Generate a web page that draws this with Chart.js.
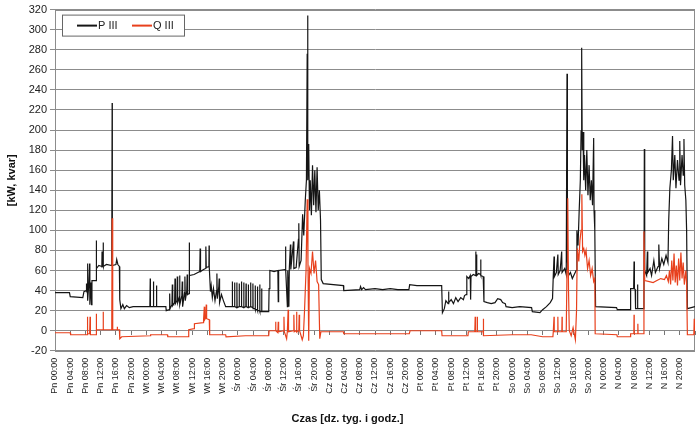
<!DOCTYPE html>
<html>
<head>
<meta charset="utf-8">
<script src="https://cdn.jsdelivr.net/npm/chart.js@4.4.0/dist/chart.umd.min.js"></script>
<style>
  html, body { margin: 0; padding: 0; background: #fff; }
</style>
</head>
<body>
<canvas id="chart" width="700" height="432"></canvas>
<script>
// tick labels: day of week x hour
const days = ["Pn", "Wt", "Śr", "Cz", "Pt", "So", "N"];
const hours = ["00:00", "04:00", "08:00", "12:00", "16:00", "20:00"];

// [hour of the week, kW]
const pIII = [
  [0,38],[3.8,38],[4.0,34],[7.3,33],[7.6,39],[8.2,40],[8.25,47],[8.3,40],[8.5,42],[8.55,67],[8.6,30],[8.9,48],[9.1,67],[9.15,26],[9.4,48],[9.6,26],[9.7,50],
  [10.8,50],[10.85,90],[10.9,62],[11.5,65],[12.3,64],[12.35,79],[12.4,64],[12.6,65],[12.65,88],[12.7,64],[13.5,66],[14.9,65],[15.0,227],[15.05,65],
  [16.0,66],[16.2,71],[16.5,66],[16.9,64],[17.0,31],[17.3,22],[17.8,26],[18.2,22],[18.8,25],[19.5,23],[20.5,24],[24.9,24],[25.0,52],[25.05,24],
  [25.8,24],[25.85,49],[25.9,24],[26.6,24],[26.65,45],[26.7,24],[29.1,24],[29.2,20],[30.0,21],[30.1,37],[30.2,22],[30.7,26],[30.8,46],[30.9,25],
  [31.4,28],[31.5,52],[31.6,27],[32.0,30],[32.1,54],[32.2,28],[32.6,33],[32.7,55],[32.8,26],[33.3,35],[33.4,49],[33.5,24],[34.0,38],[34.1,54],[34.2,30],
  [34.6,40],[34.7,56],[34.8,36],[35.2,37],[35.25,88],[35.3,55],[36.5,56],[37.0,57],[37.5,58],[38.0,59],[38.1,82],[38.2,59],[39.0,61],[39.5,62],[39.6,84],
  [39.7,63],[40.4,64],[40.45,85],[40.5,63],[40.8,39],[41.0,45],[41.3,33],[41.6,42],[42.0,30],[42.4,40],[42.5,57],[42.6,32],[43.0,44],[43.1,52],[43.2,28],
  [43.7,36],[44.2,30],[44.8,24],
  [46.5,24],[46.55,49],[46.6,24],[47.1,24],[47.15,48],[47.2,24],[47.7,23],[47.75,48],[47.8,23],[48.3,24],[48.35,47],[48.4,24],[48.9,24],[48.95,49],[49.0,24],
  [49.5,23],[49.55,48],[49.6,23],[50.1,24],[50.15,47],[50.2,24],[50.7,23],[50.75,46],[50.8,23],[51.3,24],[51.35,48],[51.4,24],[51.9,23],[51.95,47],[52.0,22],
  [52.5,22],[52.55,45],[52.6,21],[53.1,21],[53.15,44],[53.2,20],[53.7,20],[53.75,46],[53.8,19],[54.2,19],[54.25,42],[54.3,19],[56.1,19],[56.2,42],[56.4,60],
  [57.5,59],[58.5,60],[58.6,29],[58.7,60],[60.4,61],[60.5,84],[60.6,61],[61.0,24],[61.1,60],[61.4,24],[61.5,61],[61.8,86],[61.9,61],[62.6,89],[62.7,62],
  [63.3,63],[63.9,91],[64.0,107],[64.1,64],[64.6,70],[65.0,116],[65.3,95],[65.7,130],[66.0,150],[66.2,276],[66.3,314],[66.4,150],[66.6,186],[66.8,120],
  [67.0,150],[67.3,115],[67.6,165],[67.9,125],[68.2,160],[68.5,118],[68.8,163],[69.1,120],[69.4,140],[69.7,110],[69.9,51],[70.4,47],[75.7,45],[75.8,40],
  [80.0,41],[80.2,44],[80.5,41],[81.0,43],[81.5,41],[84.0,42],[86.0,41],[88.0,42],[90.0,41],[92.9,41],[93.1,46],[95.0,45],[98.0,45],[101.5,45],[101.7,18],
  [102.2,22],[102.6,30],[103.2,27],[103.3,39],[103.4,28],[104.0,31],[104.6,27],[105.2,33],[105.8,29],[106.5,33],[107.2,31],[107.5,35],[107.9,36],[108.1,54],
  [108.6,52],[109.0,55],[109.1,31],[109.2,54],[109.8,56],[110.4,55],[110.45,79],[110.5,58],[110.6,76],[110.7,55],[111.2,57],[111.7,56],[111.75,71],[111.8,55],
  [112.4,54],[112.6,29],[113.5,28],[114.5,27],[115.5,28],[116.2,32],[117.0,31],[117.5,28],[118.2,27],[118.4,24],[120,23],[122,24],[125.1,23],[125.3,19],
  [127.3,18],[128,21],[129,24],[130,28],[130.6,32],[130.8,55],[131.0,74],[131.1,54],[131.6,58],[132.0,76],[132.1,56],[132.6,60],[133.0,79],[133.1,58],
  [133.8,62],[134.2,56],[134.4,256],[134.5,70],[134.8,55],[135.3,58],[135.8,52],[136.3,56],[136.8,60],[137.0,100],[137.3,85],[137.6,120],[137.9,150],
  [138.1,199],[138.25,282],[138.4,180],[138.6,198],[138.8,150],[139.0,175],[139.3,140],[139.6,180],[139.9,135],[140.2,165],[140.5,130],[140.8,150],
  [141.1,125],[141.4,192],[141.5,120],[141.7,100],[141.9,24],[147.4,23],[147.6,21],[151.0,21],[151.1,42],[151.9,42],[152.0,69],[152.1,42],[152.3,41],
  [152.4,22],[152.8,22],[152.9,46],[153.0,22],[154.6,22],[154.7,181],[154.8,60],[155.3,55],[155.5,79],[155.6,58],[156.2,62],[156.6,55],[157.2,70],
  [157.6,58],[158.3,64],[158.5,86],[158.7,62],[159.3,72],[159.8,66],[160.4,75],[160.9,68],[161.1,110],[161.4,142],[161.8,160],[162.1,194],[162.3,150],
  [162.7,175],[163.0,142],[163.4,170],[163.8,150],[164.0,189],[164.2,145],[164.6,175],[164.9,155],[165.1,191],[165.3,145],[165.6,130],[165.8,100],
  [166.0,22],[168,24]
];

// [hour of the week, kvar]
const qIII = [
  [0,-2],[4,-2],[4.1,-4],[8.4,-4],[8.5,14],[8.6,-3],[9.1,-3],[9.2,14],[9.3,-4],[10.8,-4],[10.85,17],[10.9,1],[12.6,1],[12.65,19],[12.7,1],[14.9,1],
  [15.0,112],[15.1,60],[15.2,1],[16.3,1],[16.35,4],[16.4,1],[16.9,1],[17.0,-8],[17.5,-6],[25,-5],[25.1,-4],[29.5,-4],[29.6,-6],[35.0,-6],[35.1,1],
  [36.5,2],[36.6,7],[38.9,8],[39.0,11],[39.2,24],[39.3,11],[39.6,13],[39.7,26],[39.8,12],[40.5,11],[40.6,-4],[44.8,-4],[44.9,-6],[50,-5],[56.1,-5],
  [56.2,0],[57.8,0],[57.9,9],[58.0,0],[58.5,-2],[58.6,9],[58.7,-1],[60.0,0],[60.1,14],[60.2,-1],[60.8,-8],[61.0,0],[61.2,21],[61.3,-1],[62.6,0],
  [62.7,16],[62.8,-1],[63.3,0],[63.4,19],[63.5,-1],[64.0,0],[64.1,16],[64.2,0],[64.9,-9],[65.2,-5],[65.5,20],[65.9,60],[66.2,131],[66.4,69],[66.6,-10],
  [66.8,62],[67.2,57],[67.6,79],[68.0,57],[68.4,70],[68.8,49],[69.2,46],[69.5,-8],[69.8,-1],[75.7,-1],[75.8,-3],[93,-3],[93.2,0],[101.5,0],[101.6,-5],
  [108.4,-5],[108.5,-1],[110.2,-1],[110.3,14],[110.4,-1],[110.8,-1],[110.85,14],[110.9,-1],[112.4,-1],[112.45,12],[112.5,-5],[120,-4],[125,-4],[128,-6],
  [130.7,-6],[130.8,-1],[130.95,-1],[131.0,14],[131.05,-1],[131.95,-1],[132.0,14],[132.05,-1],[133.05,-1],[133.1,14],[133.15,-1],[134.2,-1],[134.4,60],
  [134.6,132],[134.8,40],[135.0,0],[135.5,-5],[136.0,3],[136.6,-9],[136.9,20],[137.1,82],[137.5,69],[137.8,90],[138.1,100],[138.3,136],[138.5,79],
  [138.8,82],[139.1,75],[139.4,80],[139.8,62],[140.2,70],[140.6,55],[141.0,62],[141.4,49],[141.7,52],[141.8,-3],[147.5,-4],[147.6,-6],[151,-6],[151.1,-3],
  [151.95,-3],[152.0,16],[152.05,-3],[152.95,-3],[153.0,7],[153.05,-3],[154.5,-3],[154.6,99],[154.8,50],[156,49],[157,48],[158,50],[159,52],[160,51],
  [160.5,55],[161,49],[161.3,60],[161.6,46],[161.9,70],[162.2,50],[162.5,77],[162.8,48],[163.1,65],[163.4,45],[163.7,72],[164.0,50],[164.3,78],[164.6,52],
  [164.9,68],[165.2,46],[165.6,60],[165.8,48],[166.0,-4],[167.7,-4],[167.8,12],[167.9,-3],[168,-3]
];

const tickLabels = [];
days.forEach((d) => hours.forEach((h) => tickLabels.push(d + " " + h)));

const FONT = '"Liberation Sans", Arial, sans-serif';
const GRID = "#8c8c8c";

const toPoints = (arr) => arr.map((p) => ({ x: p[0], y: p[1] }));

// legend box drawn inside the plot, top-left
const legendBox = {
  id: "legendBox",
  afterDraw(chart) {
    const ctx = chart.ctx;
    const area = chart.chartArea;
    const x = area.left + 7, y = area.top + 5, w = 122, h = 21;
    ctx.save();
    ctx.fillStyle = "#fff";
    ctx.fillRect(x, y, w, h);
    ctx.strokeStyle = "#666";
    ctx.lineWidth = 1;
    ctx.strokeRect(x + 0.5, y + 0.5, w, h);
    ctx.font = "11px " + FONT;
    ctx.textBaseline = "middle";
    const items = [chart.data.datasets[1], chart.data.datasets[0]];
    items.forEach((ds, i) => {
      const lx = x + 15 + i * 55;
      ctx.strokeStyle = ds.borderColor;
      ctx.lineWidth = 2;
      ctx.beginPath();
      ctx.moveTo(lx, y + h / 2 + 0.5);
      ctx.lineTo(lx + 20, y + h / 2 + 0.5);
      ctx.stroke();
      ctx.fillStyle = "#222";
      ctx.fillText(ds.label, lx + 21, y + h / 2 + 1);
    });
    ctx.restore();
  },
};

// plot frame
const frame = {
  id: "frame",
  beforeDatasetsDraw(chart) {
    const ctx = chart.ctx;
    const a = chart.chartArea;
    ctx.save();
    ctx.strokeStyle = GRID;
    ctx.lineWidth = 1;
    ctx.strokeRect(Math.round(a.left) + 0.5, Math.round(a.top) + 0.5, Math.round(a.right - a.left) - 1, Math.round(a.bottom - a.top));
    ctx.restore();
  },
};

new Chart(document.getElementById("chart"), {
  type: "line",
  data: {
    datasets: [
      {
        label: "Q III",
        data: toPoints(qIII),
        borderColor: "#e8401c",
        borderWidth: 1.2,
        pointRadius: 0,
        tension: 0,
        order: 0,
      },
      {
        label: "P III",
        data: toPoints(pIII),
        borderColor: "#151515",
        borderWidth: 1.2,
        pointRadius: 0,
        tension: 0,
        order: 1,
      },
    ],
  },
  options: {
    responsive: false,
    animation: false,
    layout: { padding: { left: 0, right: 5, top: 8, bottom: 0 } },
    plugins: {
      legend: { display: false },
      tooltip: { enabled: false },
      title: {
        display: true,
        position: "bottom",
        text: "Czas [dz. tyg. i godz.]",
        color: "#111",
        font: { family: FONT, size: 11, weight: "bold" },
        padding: { top: 0, bottom: 6 },
      },
    },
    scales: {
      x: {
        type: "linear",
        min: 0,
        max: 168,
        grid: { display: false, drawTicks: false },
        border: { display: false },
        ticks: {
          stepSize: 4,
          autoSkip: false,
          minRotation: 90,
          maxRotation: 90,
          padding: 7,
          color: "#222",
          font: { family: FONT, size: 9 },
          callback: (v) => tickLabels[Math.round(v / 4)] || "",
        },
        afterFit: (s) => {
          s.height = 62;
          s.paddingLeft = 0;
          s.paddingRight = 0;
        },
      },
      x2: {
        type: "linear",
        position: { y: 0 },
        min: 0,
        max: 168,
        grid: { drawOnChartArea: false, tickLength: 4, color: "#777" },
        border: { display: false },
        ticks: { stepSize: 4, display: false },
        afterFit: (s) => {
          s.paddingLeft = 0;
          s.paddingRight = 0;
        },
      },
      y: {
        min: -20,
        max: 320,
        grid: { color: GRID, tickLength: 5 },
        border: { color: GRID },
        ticks: {
          stepSize: 20,
          padding: 3,
          color: "#222",
          font: { family: FONT, size: 11 },
        },
        title: {
          display: true,
          text: "[kW, kvar]",
          color: "#111",
          font: { family: FONT, size: 11, weight: "bold" },
          padding: { top: 5, bottom: 0 },
        },
        afterFit: (s) => { s.width = 55; },
      },
    },
  },
  plugins: [frame, legendBox],
});
</script>
</body>
</html>
